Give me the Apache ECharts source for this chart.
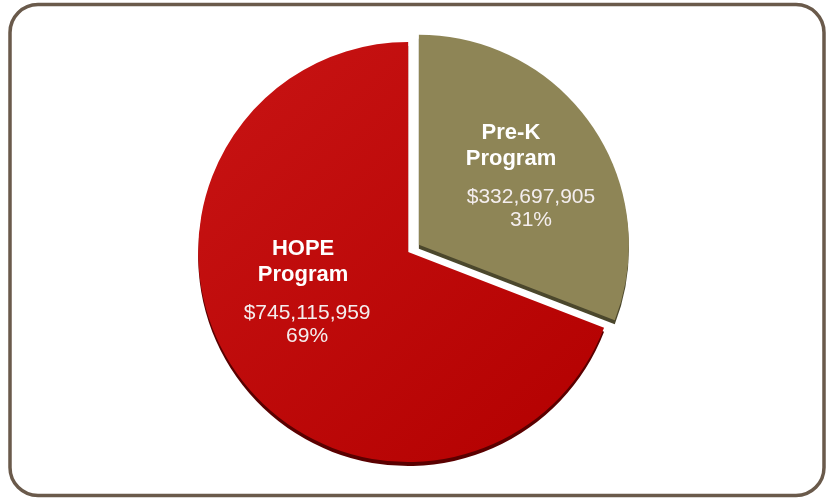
<!DOCTYPE html>
<html>
<head>
<meta charset="utf-8">
<script src="https://cdn.jsdelivr.net/npm/echarts@6/dist/echarts.min.js"></script>
<style>
  html, body { margin: 0; padding: 0; background: #fff; }
  #chart { width: 833px; height: 500px; }
</style>
</head>
<body>
<div id="chart"></div>
<script>
// data
var names = ['Pre-K\nProgram', 'HOPE\nProgram'];
var amounts = [332697905, 745115959];
var colors = ['#8e8556', '#b80606'];
var edgeColors = ['#4b472c', '#5a0000'];
// nudge label boxes (padding) so they sit where the reference has them
var labelPads = [[0, 0, 16, 26], [0, 28, 42, 0]];
// per-slice horizontal shift between name lines and value lines
var lineShift = [10, 2];

var total = amounts.reduce(function (a, b) { return a + b; }, 0);

var fontFam = 'Liberation Sans, Arial, sans-serif';

var seriesData = names.map(function (n, i) {
  var s = lineShift[i];
  return {
    name: n,
    value: amounts[i],
    selected: i === 0,
    label: {
      padding: labelPads[i],
      rich: {
        n: { fontSize: 22, fontWeight: 'bold', color: '#fff', lineHeight: 26, fontFamily: fontFam, padding: [0, 2 * s, 0, 0] },
        g: { fontSize: 6, lineHeight: 14 },
        v: { fontSize: 21, color: '#f4eeee', lineHeight: 23, fontFamily: fontFam, padding: [0, 0, 0, 2 * s] }
      }
    },
    itemStyle: {
      color: i === 1 ? new echarts.graphic.LinearGradient(0, 0, 1, 1, [
        { offset: 0, color: '#c81414' },
        { offset: 1, color: '#b30000' }
      ]) : colors[i],
      shadowColor: edgeColors[i],
      shadowOffsetY: 4,
      shadowOffsetX: 0,
      shadowBlur: 0
    }
  };
});

var chart = echarts.init(document.getElementById('chart'));
chart.setOption({
  animation: false,
  graphic: [{
    type: 'rect',
    shape: { x: 10, y: 4.5, width: 814, height: 491, r: 28 },
    style: { fill: 'none', stroke: '#6a5a4b', lineWidth: 3.5 },
    z: 10
  }],
  series: [{
    type: 'pie',
    center: ['49%', '50.4%'],
    radius: 210,
    startAngle: 90,
    clockwise: true,
    selectedMode: 'single',
    selectedOffset: 13,
    data: seriesData,
    labelLine: { show: false },
    label: {
      show: true,
      position: 'inside',
      fontFamily: fontFam,
      color: '#fff',
      formatter: function (p) {
        var parts = p.name.split('\n');
        var pct = Math.round(p.value / total * 100) + '%';
        var money = '$' + p.value.toLocaleString('en-US');
        return parts.map(function (s) { return '{n|' + s + '}'; }).join('\n') +
          '\n{g|}\n{v|' + money + '}\n{v|' + pct + '}';
      }
    }
  }]
});
</script>
</body>
</html>
